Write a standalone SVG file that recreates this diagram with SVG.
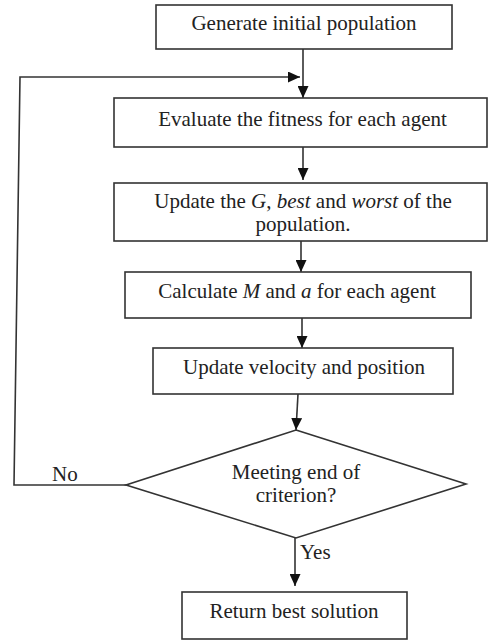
<svg xmlns="http://www.w3.org/2000/svg" width="489" height="642" viewBox="0 0 489 642">
<style>
.box{fill:#fff;stroke:#333;stroke-width:1.6}
.t{font-family:"Liberation Serif","Times New Roman",serif;font-size:21px;fill:#222;text-anchor:middle}
.l{font-family:"Liberation Serif","Times New Roman",serif;font-size:21px;fill:#222}
.c{fill:none;stroke:#333;stroke-width:1.6}
</style>
<defs>
<marker id="ah" markerUnits="userSpaceOnUse" markerWidth="12" markerHeight="11" refX="12" refY="5.5" orient="auto">
<path d="M0,0 L12,5.5 L0,11 z" fill="#111"/>
</marker>
</defs>
<rect width="489" height="642" fill="#fff"/>
<g id="connectors">
<line class="c" x1="303" y1="49" x2="303" y2="98" marker-end="url(#ah)"/>
<polyline class="c" points="126,485 14,485 20,77 300,77" marker-end="url(#ah)"/>
<line class="c" x1="303" y1="147" x2="303" y2="180" marker-end="url(#ah)"/>
<line class="c" x1="301" y1="241" x2="301" y2="272" marker-end="url(#ah)"/>
<line class="c" x1="302" y1="318" x2="302" y2="348" marker-end="url(#ah)"/>
<line class="c" x1="298" y1="394" x2="296" y2="430" marker-end="url(#ah)"/>
<line class="c" x1="295" y1="538" x2="295" y2="586" marker-end="url(#ah)"/>
<text class="l" x="52" y="481">No</text>
<text class="l" x="300" y="559">Yes</text>
</g>
<g id="n1">
<rect class="box" x="156" y="5" width="296" height="44"/>
<text class="t" x="304" y="30">Generate initial population</text>
</g>
<g id="n2">
<rect class="box" x="114" y="98" width="373" height="49"/>
<text class="t" x="302.5" y="126">Evaluate the fitness for each agent</text>
</g>
<g id="n3">
<rect class="box" x="114" y="183" width="373" height="58"/>
<text class="t" x="303" y="207.5">Update the <tspan font-style="italic">G</tspan>, <tspan font-style="italic">best</tspan> and <tspan font-style="italic">worst</tspan> of the</text>
<text class="t" x="303" y="230.5">population.</text>
</g>
<g id="n4">
<rect class="box" x="125" y="272" width="346" height="46"/>
<text class="t" x="297" y="298">Calculate <tspan font-style="italic">M</tspan> and <tspan font-style="italic">a</tspan> for each agent</text>
</g>
<g id="n5">
<rect class="box" x="153" y="348" width="300" height="46"/>
<text class="t" x="304" y="374">Update velocity and position</text>
</g>
<g id="n6">
<polygon class="box" points="296,430 466,484 296,538 126,485"/>
<text class="t" x="296" y="479">Meeting end of</text>
<text class="t" x="296" y="502">criterion?</text>
</g>
<g id="n7">
<rect class="box" x="182" y="592" width="225" height="47"/>
<text class="t" x="294" y="618">Return best solution</text>
</g>
</svg>
